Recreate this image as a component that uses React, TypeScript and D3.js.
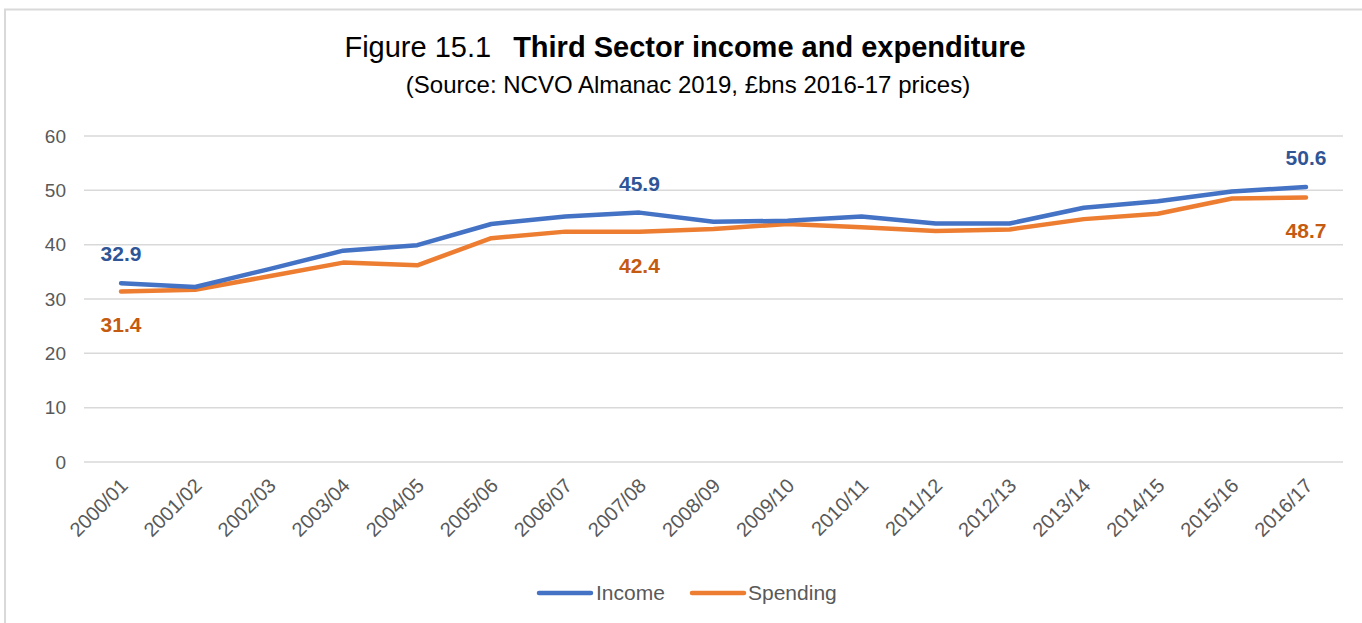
import React from "react";
import * as d3 from "d3";

const categories = ["2000/01","2001/02","2002/03","2003/04","2004/05","2005/06","2006/07","2007/08","2008/09","2009/10","2010/11","2011/12","2012/13","2013/14","2014/15","2015/16","2016/17"];
const income = [32.9, 32.2, 35.5, 38.9, 39.9, 43.8, 45.2, 45.9, 44.2, 44.4, 45.2, 43.9, 43.9, 46.8, 48.0, 49.8, 50.6];
const spending = [31.4, 31.7, 34.2, 36.7, 36.2, 41.2, 42.4, 42.4, 42.9, 43.8, 43.2, 42.5, 42.8, 44.7, 45.7, 48.5, 48.7];
const yTicks = [0, 10, 20, 30, 40, 50, 60];
const labelledIdx = [0, 7, 16];

const W = 1362, H = 623;
const plot = { left: 84, right: 1343, top: 136, bottom: 462 };
const FONT = "'Liberation Sans', Arial, sans-serif";

export default function App() {
  const x = d3.scalePoint<string>().domain(categories).range([plot.left, plot.right]).padding(0.5);
  const y = d3.scaleLinear().domain([0, 60]).range([plot.bottom, plot.top]);
  const line = d3.line<number>().x((_, i) => x(categories[i])!).y((d) => y(d));

  return (
    <svg width={W} height={H} style={{ position: "absolute", left: 0, top: 0, background: "#fff" }} fontFamily={FONT}>
      <rect x={5} y={9.5} width={W + 10} height={H + 10} fill="#fff" stroke="#D9D9D9" strokeWidth={2} />
      <text x={685} y={57} textAnchor="middle" fontSize={29} fill="#000">
        <tspan>Figure 15.1</tspan>
        <tspan dx={22} fontWeight="bold">Third Sector income and expenditure</tspan>
      </text>
      <text x={688} y={93} textAnchor="middle" fontSize={24} fill="#000">
        (Source: NCVO Almanac 2019, £bns 2016-17 prices)
      </text>
      {yTicks.map((t) => (
        <g key={t}>
          <line x1={plot.left} x2={plot.right} y1={y(t)} y2={y(t)} stroke="#D9D9D9" strokeWidth={1.5} />
          <text x={66} y={y(t)} dy="0.35em" textAnchor="end" fontSize={19} fill="#595959">{t}</text>
        </g>
      ))}
      {categories.map((c) => (
        <text key={c} transform={`translate(${x(c)! + 8},${487}) rotate(-45)`} textAnchor="end" fontSize={20} fill="#595959">
          {c}
        </text>
      ))}
      <path d={line(spending)!} fill="none" stroke="#ED7D31" strokeWidth={4.5} strokeLinejoin="round" strokeLinecap="round" />
      <path d={line(income)!} fill="none" stroke="#4472C4" strokeWidth={4.5} strokeLinejoin="round" strokeLinecap="round" />
      {labelledIdx.map((i) => (
        <g key={i}>
          <text x={x(categories[i])} y={y(income[i]) - 22} textAnchor="middle" fontSize={21} fontWeight="bold" fill="#2F5597">
            {income[i].toFixed(1)}
          </text>
          <text x={x(categories[i])} y={y(spending[i]) + 41} textAnchor="middle" fontSize={21} fontWeight="bold" fill="#C55A11">
            {spending[i].toFixed(1)}
          </text>
        </g>
      ))}
      <line x1={539} x2={591} y1={593} y2={593} stroke="#4472C4" strokeWidth={4.5} strokeLinecap="round" />
      <text x={596} y={593} dy="0.35em" fontSize={21} fill="#595959">Income</text>
      <line x1={692} x2={744} y1={593} y2={593} stroke="#ED7D31" strokeWidth={4.5} strokeLinecap="round" />
      <text x={748} y={593} dy="0.35em" fontSize={21} fill="#595959">Spending</text>
    </svg>
  );
}
